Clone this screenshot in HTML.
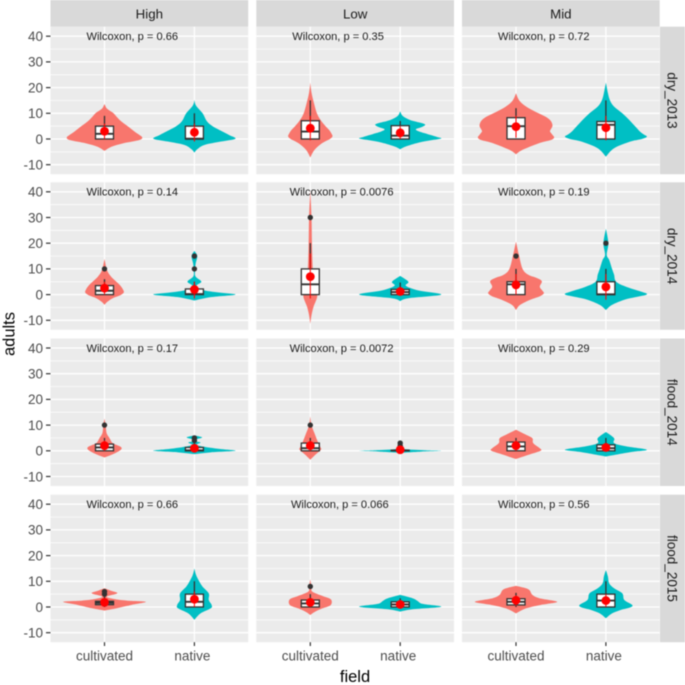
<!DOCTYPE html>
<html>
<head>
<meta charset="utf-8">
<title>Violin plots of adults by field</title>
<style>
html,body{margin:0;padding:0;background:#fff;width:685px;height:685px;overflow:hidden}
svg{display:block;filter:blur(0.5px);font-family:"Liberation Sans",sans-serif}
</style>
</head>
<body>
<svg id="chart" width="685" height="685" viewBox="0 0 685 685" xmlns="http://www.w3.org/2000/svg">
<rect width="685" height="685" fill="#fff"/>
<text x="355" y="682" font-size="16.5" text-anchor="middle" fill="#000">field</text>
<text transform="translate(14.5,334) rotate(-90)" font-size="16.5" text-anchor="middle" fill="#000">adults</text>
</svg>
<script>
const columnLabels = ['High', 'Low', 'Mid'];
const rowLabels = ['dry_2013', 'dry_2014', 'flood_2014', 'flood_2015'];
const fieldLabels = ['cultivated', 'native'];
const yTickValues = [40, 30, 20, 10, 0, -10];
const yMinorValues = [35, 25, 15, 5, -5];
const pValues = [
  ['0.66', '0.35', '0.72'],
  ['0.14', '0.0076', '0.19'],
  ['0.17', '0.0072', '0.29'],
  ['0.66', '0.066', '0.56']
];

// Box statistics: rows > columns > [cultivated, native]
const boxQ1 = [
  [[0, 0], [0, 0], [0, 0]],
  [[0, 0], [0, 0], [0, 0]],
  [[0, 0], [0, 0], [0, 0]],
  [[0.9, 0], [0, 0], [0.8, 0]]
];
const boxMedian = [
  [[2, 0.1], [2.9, 1.3], [5, 5.5]],
  [[1.5, 0.2], [4, 1], [4, 0.1]],
  [[1.3, 0.2], [1, 0.1], [1.7, 1]],
  [[1.6, 2], [1.4, 1], [2, 2.5]]
];
const boxQ3 = [
  [[5, 5], [7.1, 5.2], [8.3, 6.8]],
  [[3.5, 2.2], [10, 2], [5, 5]],
  [[2.6, 1.3], [3, 0.2], [3.4, 2.3]],
  [[2.2, 5], [2.7, 2], [3.2, 5]]
];
const whiskerLow = [
  [[0, 0], [0, 0], [0, 0]],
  [[0, 0], [0, 0], [0, 0]],
  [[0, 0], [0, 0], [0, 0]],
  [[0, 0], [0, 0], [0, 0]]
];
const whiskerHigh = [
  [[9, 10], [15, 7], [12, 15]],
  [[6, 5], [20, 4.7], [10, 10]],
  [[5, 3], [5, 0.4], [5, 5]],
  [[4, 10], [5, 3.4], [5.5, 10]]
];
const meanValues = [
  [[3, 2.6], [4.2, 2.4], [4.8, 4.4]],
  [[2.5, 2], [7, 1.2], [3.8, 3]],
  [[2, 1], [2, 0.4], [2, 1.3]],
  [[1.8, 3], [1.8, 1], [2.6, 2.5]]
];
const errorLow = [
  [[0, -1], [-0.5, 0], [0.5, -0.5]],
  [[0, -1.5], [-1.5, 0], [0, -2]],
  [[0, 0], [0, 0], [0, 0]],
  [[0.5, 0], [0, 0], [0.5, 0]]
];
const errorHigh = [
  [[6, 6], [9, 5], [9, 9]],
  [[5, 5], [16, 3], [8, 8]],
  [[4, 2], [4, 1], [4, 2.5]],
  [[3, 6], [3.5, 2], [4.5, 5]]
];
const outlierValues = [
  [[[], []], [[], []], [[], []]],
  [[[10], [15, 10]], [[30], []], [[15], [20]]],
  [[[10], [5, 4]], [[10], [3, 2, 1]], [[], []]],
  [[[6, 5], []], [[8], []], [[], []]]
];

// Violin profiles: [adults value, relative half-width]
const highDry13Cult = [[13.6,0],[12,.05],[11,.13],[10,.22],[7.4,.37],[4.8,.58],[2.9,.73],[1.6,.85],[.6,.92],[-.4,.85],[-1.7,.45],[-3,.17],[-4.6,0]];
const highDry13Nat = [[15.2,0],[13,.04],[10,.2],[7,.3],[5,.44],[3,.67],[1.5,.85],[.1,1],[-1,.65],[-2.3,.25],[-4,.07],[-5.3,0]];
const lowDry13Cult = [[22,0],[18,.03],[13.9,.09],[10,.16],[7.4,.25],[5,.37],[3.5,.46],[2,.52],[1,.54],[0,.48],[-1.7,.28],[-4.3,.1],[-7.2,0]];
const lowDry13Nat = [[10.8,0],[9,.06],[7.4,.24],[6.2,.52],[5.5,.61],[4.6,.52],[3.7,.38],[2.6,.52],[2,.65],[.8,.9],[.2,1],[-.5,.75],[-1.4,.45],[-3,.12],[-4,0]];
const midDry13Cult = [[17.8,0],[15,.08],[12.6,.25],[10,.55],[8.5,.74],[7,.85],[5.2,.89],[3.8,.85],[2.9,.83],[1.6,.89],[.6,.93],[-.4,.85],[-1.7,.55],[-4.3,.15],[-6,0]];
const midDry13Nat = [[22,0],[17.8,.05],[15,.1],[12.6,.2],[10,.4],[7.4,.57],[4.8,.72],[2.9,.83],[1.8,.92],[.9,1],[0,.88],[-1,.6],[-3.6,.2],[-6.9,0]];

const highDry14Cult = [[13.9,0],[9.6,.06],[7,.16],[3.8,.37],[2,.45],[.8,.47],[-.3,.38],[-1.4,.2],[-2.8,.07],[-4,0]];
const highDry14Nat = [[17,0],[15,.07],[12,.03],[9,.015],[7,.03],[5,.17],[3.4,.05],[1.8,.2],[.8,.6],[0,1],[-1,.4],[-2.3,0]];
const lowDry14Cult = [[40.5,0],[30,.03],[20,.04],[10,.06],[3,.1],[-.5,.17],[-4.7,.08],[-8,.03],[-11.4,0]];
const lowDry14Nat = [[7.3,0],[5,.2],[3.4,.14],[1.6,.45],[0,1],[-1.4,.2],[-2.5,0]];
const midDry14Cult = [[20.6,0],[15.5,.07],[10,.16],[7.7,.3],[6.5,.5],[5.2,.63],[3.1,.58],[1.6,.64],[.5,.68],[-.7,.58],[-2,.35],[-4,.1],[-6,0]];
const midDry14Nat = [[25.6,0],[20,.06],[15.5,.02],[13.5,.08],[10,.15],[7.7,.2],[5,.25],[3,.5],[1.2,.85],[.1,1],[-1,.72],[-2,.45],[-4,.15],[-6,0]];

const highFlood14Cult = [[12.5,0],[10,.03],[6.9,.05],[5,.12],[3,.2],[1.7,.38],[.6,.41],[-1,.25],[-2.6,0]];
const highFlood14Nat = [[6,0],[5.2,.19],[4.4,.05],[3.6,.05],[3.2,.15],[2.3,.05],[1.4,.3],[.6,.7],[0,1],[-.6,.4],[-1.3,0]];
const lowFlood14Cult = [[13.4,0],[10,.03],[6.9,.1],[3.6,.18],[1.3,.25],[.4,.26],[-1.6,.12],[-3.5,0]];
const lowFlood14Nat = [[3.6,0],[3,.03],[1.5,.03],[.7,.1],[.2,.6],[0,1],[-.3,.5],[-.8,0]];
const midFlood14Cult = [[8.2,0],[6.2,.25],[4.9,.4],[3,.42],[1,.58],[0,.6],[-1.6,.3],[-3.2,0]];
const midFlood14Nat = [[7.3,0],[4.9,.2],[3,.2],[1.7,.5],[.4,1],[-.5,.6],[-2.2,0]];

const highFlood15Cult = [[7.3,0],[6.2,.18],[5.3,.31],[4,.05],[3,.27],[2.5,.55],[2.1,1],[1.4,.85],[.8,.65],[-.5,.3],[-1.4,0]];
const highFlood15Nat = [[15,0],[12.5,.04],[9.9,.12],[7.9,.2],[5.3,.35],[2.7,.35],[.8,.42],[-.5,.4],[-2.5,.15],[-5,0]];
const lowFlood15Cult = [[10.8,0],[7.9,.03],[6,.05],[4.3,.3],[3,.5],[.8,.5],[-.5,.3],[-1.8,.12],[-3.1,0]];
const lowFlood15Nat = [[4.7,0],[3.4,.3],[2.4,.42],[1.2,.55],[.1,1],[-.9,.3],[-1.8,0]];
const midFlood15Cult = [[8.2,0],[6.9,.3],[4.7,.4],[3.4,.57],[2.1,1],[1.3,.8],[.8,.6],[-.5,.25],[-2.5,0]];
const midFlood15Nat = [[14.4,0],[11.8,.05],[9.2,.08],[7.3,.2],[5.3,.4],[2.7,.45],[.4,.65],[-1.2,.35],[-2.5,.15],[-4.4,0]];

const violinProfiles = [
  [[highDry13Cult, highDry13Nat], [lowDry13Cult, lowDry13Nat], [midDry13Cult, midDry13Nat]],
  [[highDry14Cult, highDry14Nat], [lowDry14Cult, lowDry14Nat], [midDry14Cult, midDry14Nat]],
  [[highFlood14Cult, highFlood14Nat], [lowFlood14Cult, lowFlood14Nat], [midFlood14Cult, midFlood14Nat]],
  [[highFlood15Cult, highFlood15Nat], [lowFlood15Cult, lowFlood15Nat], [midFlood15Cult, midFlood15Nat]]
];

const fieldColors = ['#F8766D', '#00BFC4'];
const svg = document.getElementById('chart');
const NS = 'http://www.w3.org/2000/svg';

const panelLeft = [50.5, 256.3, 462];
const panelTop = [26.7, 182.3, 338.5, 494.7];
const panelWidth = 197.7;
const panelHeight = 147.5;
const yDomainTop = 43.7;
const yDomainBottom = -13.7;
const violinHalfWidth = 41;
const boxHalfWidth = 9;

function yScale(r, v) {
  return panelTop[r] + (yDomainTop - v) / (yDomainTop - yDomainBottom) * panelHeight;
}
function xScale(c, i) {
  return panelLeft[c] + 54 + i * 89.9;
}
function make(tag, attrs, parent) {
  const el = document.createElementNS(NS, tag);
  for (const k in attrs) el.setAttribute(k, attrs[k]);
  (parent || svg).appendChild(el);
  return el;
}
function smoothPath(pts) {
  let d = 'M' + pts[0][0].toFixed(2) + ' ' + pts[0][1].toFixed(2);
  for (let i = 0; i < pts.length - 1; i++) {
    const p0 = pts[Math.max(i - 1, 0)], p1 = pts[i], p2 = pts[i + 1], p3 = pts[Math.min(i + 2, pts.length - 1)];
    const c1x = p1[0] + (p2[0] - p0[0]) / 6, c1y = p1[1] + (p2[1] - p0[1]) / 6;
    const c2x = p2[0] - (p3[0] - p1[0]) / 6, c2y = p2[1] - (p3[1] - p1[1]) / 6;
    d += 'C' + c1x.toFixed(2) + ' ' + c1y.toFixed(2) + ' ' + c2x.toFixed(2) + ' ' + c2y.toFixed(2) + ' ' + p2[0].toFixed(2) + ' ' + p2[1].toFixed(2);
  }
  return d;
}
function violinPath(r, c, i, profile) {
  const cx = xScale(c, i);
  const right = profile.map(p => [cx + p[1] * violinHalfWidth, yScale(r, p[0])]);
  const left = profile.map(p => [cx - p[1] * violinHalfWidth, yScale(r, p[0])]).reverse();
  return smoothPath(right) + smoothPath(left).replace(/^M[^C]*/, '') + 'Z';
}

// Column strips
columnLabels.forEach((label, c) => {
  const strip = make('rect', {x: panelLeft[c], y: 0, width: panelWidth, height: panelTop[0], fill: '#d9d9d9'});
  
  
  const t = make('text', {x: panelLeft[c] + panelWidth / 2, y: 18.5, 'font-size': 13.3, 'text-anchor': 'middle', fill: '#1a1a1a'});
  
  
  t.textContent = label;
});

// Row strips
rowLabels.forEach((label, r) => {
  const strip = make('rect', {x: 660, y: panelTop[r], width: 25, height: panelHeight, fill: '#d9d9d9'});
  
  
  const cy = panelTop[r] + panelHeight / 2;
  const t = make('text', {transform: 'translate(667.5,' + cy + ') rotate(90)', 'font-size': 13.5, 'text-anchor': 'middle', fill: '#1a1a1a'});
  
  
  t.textContent = label;
});

// Panels
rowLabels.forEach((rowLabel, r) => {
  // Y axis ticks and labels
  yTickValues.forEach(v => {
    const tick = make('line', {x1: 46, x2: panelLeft[0], y1: yScale(r, v), y2: yScale(r, v), stroke: '#333', 'stroke-width': 1.2});
    
    
    const lab = make('text', {x: 43, y: yScale(r, v) + 4.8, 'font-size': 13.5, 'text-anchor': 'end', fill: '#4d4d4d'});
    
    
    lab.textContent = v;
  });

  columnLabels.forEach((colLabel, c) => {
    const g = make('g', {});
    
    
    const bg = make('rect', {x: panelLeft[c], y: panelTop[r], width: panelWidth, height: panelHeight, fill: '#ebebeb'}, g);
    
    

    yMinorValues.forEach(v => {
      const line = make('line', {x1: panelLeft[c], x2: panelLeft[c] + panelWidth, y1: yScale(r, v), y2: yScale(r, v), stroke: '#fff', 'stroke-width': 0.7}, g);
      
      
    });
    yTickValues.forEach(v => {
      const line = make('line', {x1: panelLeft[c], x2: panelLeft[c] + panelWidth, y1: yScale(r, v), y2: yScale(r, v), stroke: '#fff', 'stroke-width': 1.3}, g);
      
      
    });
    fieldLabels.forEach((f, i) => {
      const line = make('line', {x1: xScale(c, i), x2: xScale(c, i), y1: panelTop[r], y2: panelTop[r] + panelHeight, stroke: '#fff', 'stroke-width': 1.3}, g);
      
      
    });

    fieldLabels.forEach((f, i) => {
      const cx = xScale(c, i);
      const violin = make('path', {d: violinPath(r, c, i, violinProfiles[r][c][i]), fill: fieldColors[i]}, g);
      
      

      const whisker = make('line', {x1: cx, x2: cx, y1: yScale(r, whiskerLow[r][c][i]), y2: yScale(r, whiskerHigh[r][c][i]), stroke: '#333', 'stroke-width': 1.3}, g);
      
      

      const yQ3 = yScale(r, boxQ3[r][c][i]);
      const yQ1 = yScale(r, boxQ1[r][c][i]);
      const box = make('rect', {x: cx - boxHalfWidth, y: yQ3, width: boxHalfWidth * 2, height: yQ1 - yQ3, fill: '#fff', stroke: '#333', 'stroke-width': 1.3}, g);
      
      

      const median = make('line', {x1: cx - boxHalfWidth, x2: cx + boxHalfWidth, y1: yScale(r, boxMedian[r][c][i]), y2: yScale(r, boxMedian[r][c][i]), stroke: '#333', 'stroke-width': 1.9}, g);
      
      

      outlierValues[r][c][i].forEach(v => {
        const dot = make('circle', {cx: cx, cy: yScale(r, v), r: 2.7, fill: '#333'}, g);
        
        
      });

      const err = make('line', {x1: cx, x2: cx, y1: yScale(r, errorLow[r][c][i]), y2: yScale(r, errorHigh[r][c][i]), stroke: '#f00', 'stroke-width': 1}, g);
      
      

      const mean = make('circle', {cx: cx, cy: yScale(r, meanValues[r][c][i]), r: 4.4, fill: '#f00'}, g);
      
      
    });

    const label = 'Wilcoxon, p = ' + pValues[r][c];
    const pText = make('text', {x: panelLeft[c] + 36 - 1.35 * (label.length - 18), y: yScale(r, 40) + 3.9, 'font-size': 11.1, fill: '#1a1a1a'}, g);
    
    
    pText.textContent = label;
  });
});

// X axis ticks and labels
columnLabels.forEach((colLabel, c) => {
  fieldLabels.forEach((f, i) => {
    const base = panelTop[3] + panelHeight;
    const tick = make('line', {x1: xScale(c, i), x2: xScale(c, i), y1: base, y2: base + 3.8, stroke: '#333', 'stroke-width': 1.2});
    
    
    const lab = make('text', {x: xScale(c, i) - (i === 1 ? 2 : 0), y: 660.5, 'font-size': 13.5, 'text-anchor': 'middle', fill: '#4d4d4d'});
    
    
    lab.textContent = f;
  });
});
</script>
</body>
</html>
